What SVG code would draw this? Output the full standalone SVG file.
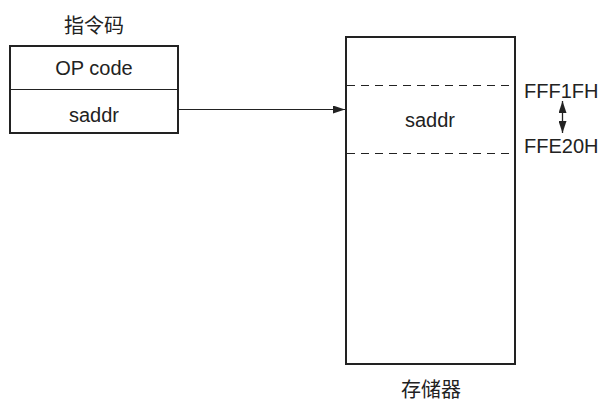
<svg xmlns="http://www.w3.org/2000/svg" width="604" height="401" viewBox="0 0 604 401">
<style>
.box{fill:#fff;stroke:#222;stroke-width:2}
.t{font-family:"Liberation Sans","Noto Sans CJK SC",sans-serif;font-size:20px;fill:#222}
.c{text-anchor:middle}
.dash{stroke:#222;stroke-width:1;stroke-dasharray:8,6;fill:none}
.ln{stroke:#222;stroke-width:1;fill:none}
</style>
<defs>
<marker id="ah" viewBox="0 0 12 8" refX="12" refY="4" markerWidth="12" markerHeight="8" markerUnits="userSpaceOnUse" orient="auto-start-reverse">
<path d="M0,0 L12,4 L0,8 Z" fill="#222"/>
</marker>
</defs>
<rect width="604" height="401" fill="#fff"/>
<g id="instr">
<text class="t c" x="94" y="33">指令码</text>
<rect class="box" x="10" y="46" width="168" height="87"/>
<line class="ln" x1="10" y1="89.5" x2="178" y2="89.5" stroke="#444"/>
<text class="t c" x="94" y="75">OP code</text>
<text class="t c" x="94" y="122">saddr</text>
</g>
<g id="memory">
<rect class="box" x="346" y="37" width="169" height="327"/>
<line class="dash" x1="347" y1="85.5" x2="514" y2="85.5"/>
<line class="dash" x1="347" y1="153.5" x2="514" y2="153.5"/>
<text class="t c" x="430" y="127">saddr</text>
<text class="t c" x="431" y="397">存储器</text>
<text class="t" x="524" y="98">FFF1FH</text>
<text class="t" x="524" y="153">FFE20H</text>
</g>
<g id="connectors">
<line class="ln" x1="179" y1="109.5" x2="345" y2="109.5" marker-end="url(#ah)"/>
<line class="ln" x1="562.5" y1="101" x2="562.5" y2="133" marker-start="url(#ah)" marker-end="url(#ah)" style="stroke-width:1.3"/>
</g>
</svg>
